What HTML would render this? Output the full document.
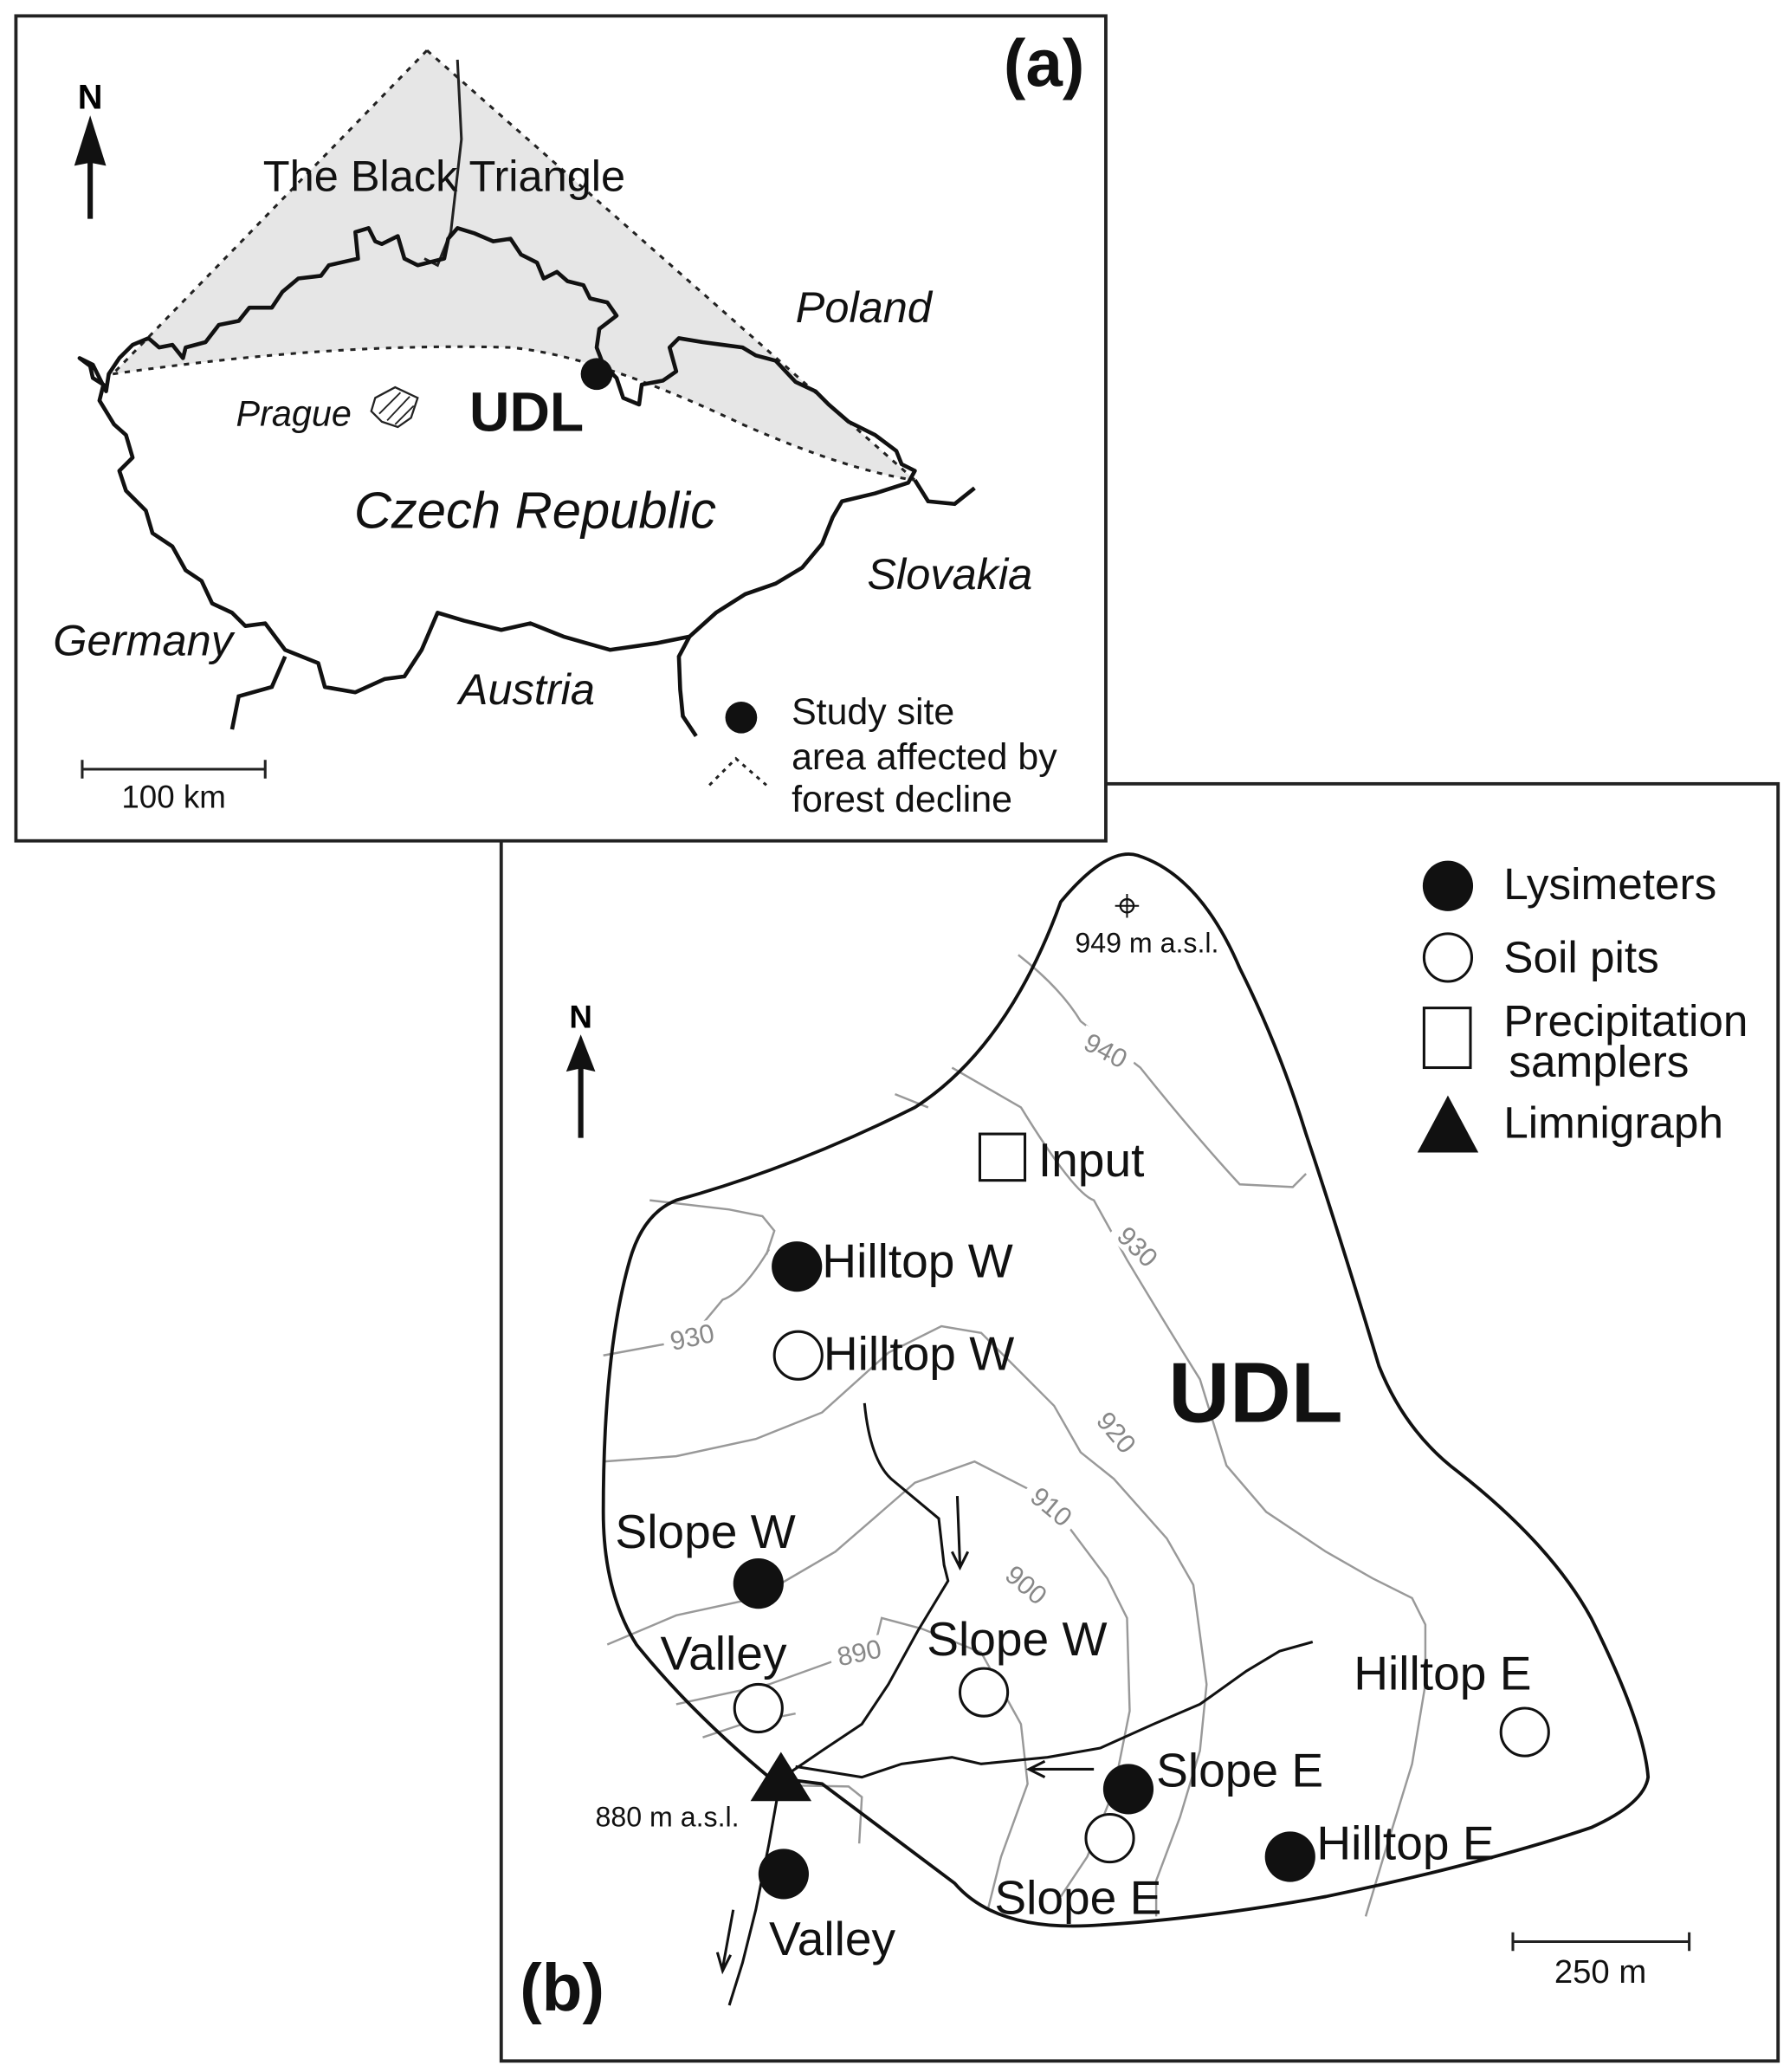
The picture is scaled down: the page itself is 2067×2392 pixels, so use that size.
<!DOCTYPE html>
<html><head><meta charset="utf-8"><style>html,body{margin:0;padding:0;background:#fff}svg{display:block}</style></head>
<body>
<svg width="2067" height="2392" viewBox="0 0 1350 1562.3" xmlns="http://www.w3.org/2000/svg" font-family="Liberation Sans, Arial, sans-serif">
<rect width="1350" height="1563" fill="#fff"/>
<rect x="378" y="591" width="963" height="963" fill="#fff" stroke="#222" stroke-width="2.5"/>
<rect x="12" y="12" width="822" height="622" fill="#fff" stroke="#222" stroke-width="2.5"/>

<path d="M322,38 L85,282 Q250,258 385,262 Q450,268 560,320 Q640,355 690,362 Z" fill="#e6e6e6"/>
<path d="M322,38 L85,282 M322,38 L690,362" stroke="#222" stroke-width="2" stroke-dasharray="4,5" fill="none"/>
<path d="M85,282 Q250,258 385,262 Q450,268 560,320 Q640,355 690,362" stroke="#222" stroke-width="2" stroke-dasharray="4,5" fill="none"/>
<path d="M345,45 L348,105 L340,175 L330,200 L320,195" stroke="#222" stroke-width="2" fill="none"/>
<path fill="none" stroke="#111" stroke-width="3" stroke-linejoin="round" d="M60,270 L68,276 L70,285 L78,290 L75,302 L86,320 L95,328 L100,345 L90,355 L95,370 L110,385 L115,402 L130,412 L140,430 L152,438 L160,455 L175,462 L185,472 L200,470 L215,490 L240,500 L245,518 L268,522 L290,512 L305,510 L318,490 L330,462 L350,468 L378,475 L400,470 L425,480 L460,490 L495,485 L520,480 L540,462 L562,448 L585,440 L605,428 L620,410 L628,390 L635,378 L660,372 L685,364 L690,355 L680,350 L676,340 L660,328 L640,318 L625,305 L615,295 L600,288 L585,272 L570,268 L560,262 L545,260 L530,258 L512,255 L505,262 L510,280 L500,287 L484,290 L482,305 L470,300 L465,285 L455,275 L450,262 L452,248 L465,238 L458,228 L445,225 L440,215 L428,212 L420,205 L410,210 L405,198 L393,192 L385,180 L372,182 L358,176 L345,172 L338,180 L335,195 L315,200 L305,195 L300,178 L288,184 L283,182 L278,172 L268,175 L270,195 L248,200 L242,208 L225,210 L213,220 L205,232 L188,232 L180,242 L165,245 L155,258 L140,262 L138,270 L130,260 L120,262 L112,255 L100,260 L90,270 L82,282 L80,295 L75,285 L70,275 L60,270 Z"/>
<path d="M175,550 L180,525 L205,518 L215,495" stroke="#111" stroke-width="3" fill="none"/>
<path d="M520,480 L512,495 L513,520 L515,540 L525,555" stroke="#111" stroke-width="3" fill="none"/>
<path d="M690,362 L700,378 L720,380 L735,368" stroke="#111" stroke-width="3" fill="none"/>
<circle cx="450" cy="282" r="12" fill="#111"/>
<path d="M283,300 L298,292 L315,300 L310,315 L300,322 L288,318 L280,310 Z" fill="#fff" stroke="#222" stroke-width="1.5"/>
<path d="M286,312 L302,296 M292,317 L309,299 M298,320 L312,306" stroke="#222" stroke-width="1.2"/>
<text x="68" y="82" font-size="26" font-weight="bold" text-anchor="middle">N</text>
<path d="M68,87 L80,125 L70,123 L70,165 L66,165 L66,123 L56,125 Z" fill="#111"/>
<text x="335" y="144" font-size="33" text-anchor="middle" fill="#111">The Black Triangle</text>
<text x="600" y="243" font-size="33" font-style="italic" fill="#111">Poland</text>
<text x="178" y="321" font-size="27" font-style="italic" fill="#111">Prague</text>
<text x="354" y="325" font-size="42" font-weight="bold" fill="#111">UDL</text>
<text x="267" y="398" font-size="39" font-style="italic" fill="#111">Czech Republic</text>
<text x="654" y="444" font-size="33" font-style="italic" fill="#111">Slovakia</text>
<text x="40" y="494" font-size="33" font-style="italic" fill="#111">Germany</text>
<text x="346" y="531" font-size="33" font-style="italic" fill="#111">Austria</text>
<circle cx="559" cy="541" r="12" fill="#111"/>
<text x="597" y="546" font-size="28" fill="#111">Study site</text>
<text x="597" y="580" font-size="28" fill="#111">area affected by</text>
<text x="597" y="612" font-size="28" fill="#111">forest decline</text>
<path d="M535,592 L555,572 L578,592" stroke="#222" stroke-width="2" stroke-dasharray="3,4" fill="none"/>
<path d="M62,580 L200,580 M62,573 L62,587 M200,573 L200,587" stroke="#222" stroke-width="2"/>
<text x="131" y="609" font-size="24" text-anchor="middle" fill="#111">100 km</text>
<text x="818" y="65" font-size="50" font-weight="bold" text-anchor="end" fill="#111">(a)</text>

<g stroke="#999" stroke-width="1.6" fill="none">
<path d="M768,720 Q800,745 815,770 L860,805 Q900,855 935,893 L975,895 L985,885"/>
<path d="M718,805 L770,835 Q810,900 825,905 L850,950 Q880,1000 905,1040 L925,1105 L955,1140 L1000,1170 L1035,1190 L1065,1205 L1075,1225 L1075,1270 L1065,1330 L1045,1395 L1030,1445"/>
<path d="M675,825 L700,835"/>
<path d="M490,905 L550,912 L575,917 L584,928 L578,946"/>
<path d="M580,942 Q560,975 545,980 L520,1010 L455,1022"/>
<path d="M455,1102 L510,1098 L570,1085 L620,1065 L670,1020 L710,1000 L740,1005 L770,1035 L795,1060 L815,1095 L840,1115 L880,1160 L900,1195 L910,1270 L905,1320 L890,1370 L872,1418 L872,1445"/>
<path d="M458,1240 L510,1218 L570,1205 L630,1170 L690,1118 L735,1102 L780,1125 L805,1150 L835,1190 L850,1220 L852,1290 L840,1350 L820,1400 L800,1430"/>
<path d="M510,1285 L580,1270 L630,1252 L660,1240 L665,1220 L695,1228 L740,1246 L770,1300 L775,1345 L755,1400 L745,1440"/>
<path d="M530,1310 L560,1300 L600,1292"/>
<path d="M582,1346 L640,1347 L650,1355 L648,1390"/>
</g>
<g font-size="20" fill="#888" text-anchor="middle">
<rect x="812" y="782" width="45" height="20" fill="#fff" transform="rotate(28 834 792)"/>
<text x="834" y="799" transform="rotate(28 834 792)">940</text>
<rect x="836" y="930" width="45" height="20" fill="#fff" transform="rotate(45 858 940)"/>
<text x="858" y="947" transform="rotate(45 858 940)">930</text>
<rect x="500" y="998" width="45" height="20" fill="#fff" transform="rotate(-12 522 1008)"/>
<text x="522" y="1015" transform="rotate(-12 522 1008)">930</text>
<rect x="820" y="1070" width="45" height="20" fill="#fff" transform="rotate(50 842 1080)"/>
<text x="842" y="1087" transform="rotate(50 842 1080)">920</text>
<rect x="770" y="1126" width="45" height="20" fill="#fff" transform="rotate(40 793 1136)"/>
<text x="793" y="1143" transform="rotate(40 793 1136)">910</text>
<rect x="752" y="1185" width="45" height="20" fill="#fff" transform="rotate(40 774 1195)"/>
<text x="774" y="1202" transform="rotate(40 774 1195)">900</text>
<rect x="626" y="1236" width="45" height="20" fill="#fff" transform="rotate(-12 648 1246)"/>
<text x="648" y="1253" transform="rotate(-12 648 1246)">890</text>
</g>
<path fill="none" stroke="#111" stroke-width="2.5" d="M800,680 Q835,638 858,645 Q905,660 935,730 Q965,790 985,855 Q1010,930 1040,1030 Q1060,1080 1100,1110 Q1170,1165 1200,1220 Q1240,1300 1243,1340 Q1240,1360 1200,1378 Q1120,1405 1000,1430 Q900,1448 820,1452 Q750,1455 720,1420 Q680,1390 620,1345 L580,1340 Q520,1290 480,1240 Q455,1200 455,1140 Q455,1020 475,950 Q485,915 510,905 Q600,880 690,835 Q760,790 800,680 Z"/>
<g stroke="#111" stroke-width="2" fill="none">
<path d="M652,1058 Q656,1100 672,1115 L708,1145 L712,1180 L715,1192 L692,1230 L670,1270 L650,1300 L620,1320 L598,1335 L588,1345 L580,1390 L570,1440 L560,1480 L550,1512"/>
<path d="M600,1332 L650,1340 L680,1330 L718,1325 L740,1330 L790,1325 L830,1318 L870,1300 L905,1285 L940,1260 L965,1245 L990,1238"/>
<path d="M722,1128 L724,1180 M718,1170 L724,1182 L730,1170"/>
<path d="M825,1334 L778,1334 M788,1328 L776,1334 L788,1340"/>
<path d="M553,1440 L545,1484 M541,1472 L545,1486 L551,1474"/>
</g>
<circle cx="850" cy="683" r="5" fill="#fff" stroke="#111" stroke-width="1.5"/>
<path d="M850,674 L850,692 M841,683 L859,683" stroke="#111" stroke-width="1.3"/>
<text x="865" y="718" font-size="21" text-anchor="middle" fill="#111">949 m a.s.l.</text>
<text x="438" y="775" font-size="24" font-weight="bold" text-anchor="middle">N</text>
<path d="M438,780 L449,808 L440,806 L440,858 L436,858 L436,806 L427,808 Z" fill="#111"/>
<g fill="#111">
<circle cx="601" cy="955" r="19"/>
<circle cx="572" cy="1194" r="19"/>
<circle cx="851" cy="1349" r="19"/>
<circle cx="973" cy="1400" r="19"/>
<circle cx="591" cy="1413" r="19"/>
<path d="M589,1321 L612,1358 L566,1358 Z"/>
</g>
<g fill="#fff" stroke="#111" stroke-width="2">
<circle cx="602" cy="1022" r="18"/>
<circle cx="572" cy="1288" r="18"/>
<circle cx="742" cy="1276" r="18"/>
<circle cx="1150" cy="1306" r="18"/>
<circle cx="837" cy="1386" r="18"/>
<rect x="739" y="855" width="34" height="35"/>
</g>
<g font-size="36" fill="#111">
<text x="783" y="887">Input</text>
<text x="620" y="963">Hilltop W</text>
<text x="621" y="1033">Hilltop W</text>
<text x="464" y="1167">Slope W</text>
<text x="498" y="1259">Valley</text>
<text x="699" y="1248">Slope W</text>
<text x="1021" y="1274">Hilltop E</text>
<text x="872" y="1347">Slope E</text>
<text x="993" y="1402">Hilltop E</text>
<text x="750" y="1443">Slope E</text>
<text x="580" y="1474">Valley</text>
</g>
<text x="947" y="1072" font-size="64" font-weight="bold" text-anchor="middle" fill="#111">UDL</text>
<text x="449" y="1377" font-size="21" fill="#111">880 m a.s.l.</text>
<text x="392" y="1516" font-size="50" font-weight="bold" fill="#111">(b)</text>
<circle cx="1092" cy="668" r="19" fill="#111"/>
<circle cx="1092" cy="722" r="18" fill="#fff" stroke="#111" stroke-width="2"/>
<rect x="1074" y="760" width="35" height="45" fill="#fff" stroke="#111" stroke-width="2"/>
<path d="M1092,826 L1115,869 L1069,869 Z" fill="#111"/>
<g font-size="33.5" fill="#111">
<text x="1134" y="678">Lysimeters</text>
<text x="1134" y="733">Soil pits</text>
<text x="1134" y="781">Precipitation</text>
<text x="1138" y="812">samplers</text>
<text x="1134" y="858">Limnigraph</text>
</g>
<path d="M1141,1464 L1274,1464 M1141,1457 L1141,1471 M1274,1457 L1274,1471" stroke="#222" stroke-width="2"/>
<text x="1207" y="1495" font-size="25" text-anchor="middle" fill="#111">250 m</text>
</svg>
</body></html>
